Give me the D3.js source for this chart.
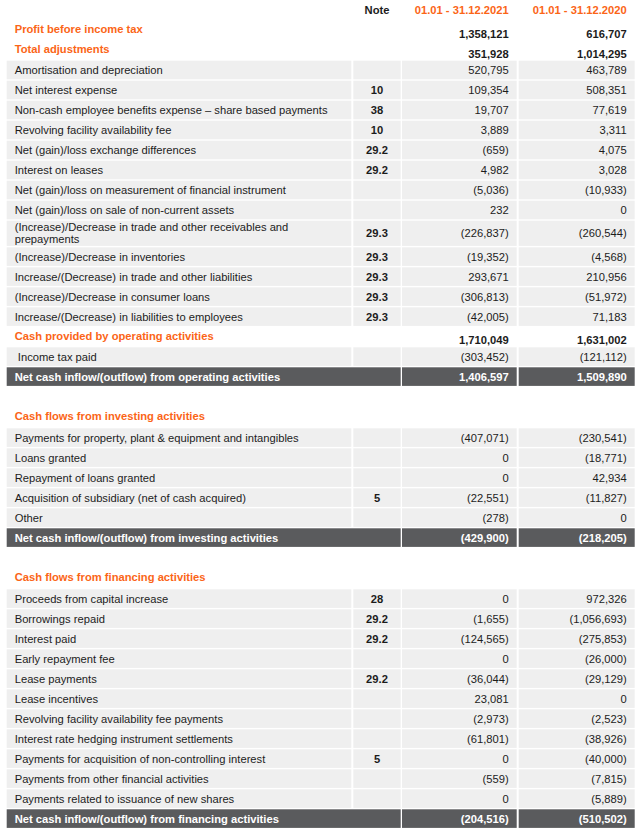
<!DOCTYPE html>
<html><head><meta charset="utf-8">
<script src="https://cdn.jsdelivr.net/npm/d3@7"></script>
<style>
body{margin:0;background:#fff}
svg{display:block}
text{font-family:"Liberation Sans",Arial,sans-serif;font-size:11.2px}
</style>
</head><body>
<svg id="c" width="640" height="833"></svg>
<script>
// ---------- data ----------
const columnHeaders = ["Note", "01.01 - 31.12.2021", "01.01 - 31.12.2020"];

const rowKinds = [
  "head","head",
  "item","item","item","item","item","item","item","item",
  "wrap","item","item","item","item",
  "head","item","total",
  "gap","section",
  "item","item","item","item","item","total",
  "gap","section",
  "item","item","item","item","item","item","item","item","item","item","item","total"
];

const labels = [
  "Profit before income tax",
  "Total adjustments",
  "Amortisation and depreciation",
  "Net interest expense",
  "Non-cash employee benefits expense \u2013 share based payments",
  "Revolving facility availability fee",
  "Net (gain)/loss exchange differences",
  "Interest on leases",
  "Net (gain)/loss on measurement of financial instrument",
  "Net (gain)/loss on sale of non-current assets",
  "(Increase)/Decrease in trade and other receivables and|prepayments",
  "(Increase)/Decrease in inventories",
  "Increase/(Decrease) in trade and other liabilities",
  "(Increase)/Decrease in consumer loans",
  "Increase/(Decrease) in liabilities to employees",
  "Cash provided by operating activities",
  "\u00a0Income tax paid",
  "Net cash inflow/(outflow) from operating activities",
  "",
  "Cash flows from investing activities",
  "Payments for property, plant & equipment and intangibles",
  "Loans granted",
  "Repayment of loans granted",
  "Acquisition of subsidiary (net of cash acquired)",
  "Other",
  "Net cash inflow/(outflow) from investing activities",
  "",
  "Cash flows from financing activities",
  "Proceeds from capital increase",
  "Borrowings repaid",
  "Interest paid",
  "Early repayment fee",
  "Lease payments",
  "Lease incentives",
  "Revolving facility availability fee payments",
  "Interest rate hedging instrument settlements",
  "Payments for acquisition of non-controlling interest",
  "Payments from other financial activities",
  "Payments related to issuance of new shares",
  "Net cash inflow/(outflow) from financing activities"
];

const notes = [
  "","",
  "","10","38","10","29.2","29.2","","",
  "29.3","29.3","29.3","29.3","29.3",
  "","","",
  "","",
  "","","","5","","",
  "","",
  "28","29.2","29.2","","29.2","","","","5","","",""
];

const values2021 = [
  1358121, 351928,
  520795, 109354, 19707, 3889, -659, 4982, -5036, 232,
  -226837, -19352, 293671, -306813, -42005,
  1710049, -303452, 1406597,
  null, null,
  -407071, 0, 0, -22551, -278, -429900,
  null, null,
  0, -1655, -124565, 0, -36044, 23081, -2973, -61801, 0, -559, 0, -204516
];

const values2020 = [
  616707, 1014295,
  463789, 508351, 77619, 3311, 4075, 3028, -10933, 0,
  -260544, -4568, 210956, -51972, 71183,
  1631002, -121112, 1509890,
  null, null,
  -230541, -18771, 42934, -11827, 0, -218205,
  null, null,
  972326, -1056693, -275853, -26000, -29129, 0, -2523, -38926, -40000, -7815, -5889, -510502
];

// ---------- layout ----------
const W = 640, H = 833;
const orange = "#fb6517", gray = "#efefef", dark = "#5a5b5d", ink = "#1c1c1c";
const headerH = 20.7;
const kindH = {head: 20, item: 20, wrap: 26.6, total: 20, gap: 21, section: 20};
const rectH = 18.6;

const heights = rowKinds.map(k => kindH[k]);
const tops = heights.map((h, i) => headerH + d3.sum(heights.slice(0, i)));
const y = d3.scaleOrdinal().domain(d3.range(rowKinds.length)).range(tops);

const colKeys = ["label", "note", "v2021", "v2020"];
const colX = d3.scaleOrdinal().domain(colKeys).range([6.7, 353.3, 402, 518.7]);
const colW = d3.scaleOrdinal().domain(colKeys).range([344.6, 47.4, 114.7, 116]);
const textX = d3.scaleOrdinal().domain(colKeys).range([14.7, 377, 508.7, 626.7]);

const fmtN = d3.format(",");
const fmt = v => v == null ? "" : (v < 0 ? "(" + fmtN(-v) + ")" : fmtN(v));

const svg = d3.select("#c");
svg.append("rect").attr("width", W).attr("height", H).attr("fill", "#fff");

// column headers
const hdr = svg.append("g");
hdr.append("text").attr("x", textX("note")).attr("y", 10).attr("dy", "0.35em")
  .attr("text-anchor", "middle").attr("font-weight", "bold").attr("fill", ink).text(columnHeaders[0]);
hdr.append("text").attr("x", textX("v2021")).attr("y", 10).attr("dy", "0.35em")
  .attr("text-anchor", "end").attr("font-weight", "bold").attr("fill", orange).text(columnHeaders[1]);
hdr.append("text").attr("x", textX("v2020")).attr("y", 10).attr("dy", "0.35em")
  .attr("text-anchor", "end").attr("font-weight", "bold").attr("fill", orange).text(columnHeaders[2]);

const rows = d3.range(rowKinds.length).map(i => ({
  i, kind: rowKinds[i], label: labels[i], note: notes[i], a: values2021[i], b: values2020[i], top: y(i), h: heights[i]
}));

const g = svg.append("g");
const rowG = g.selectAll("g.row").data(rows).join("g").attr("class", "row")
  .attr("transform", d => `translate(0,${d.top})`);

// backgrounds
rowG.filter(d => d.kind === "item" || d.kind === "wrap").each(function(d) {
  const s = d3.select(this);
  colKeys.forEach(k => {
    s.append("rect").attr("x", colX(k)).attr("y", 0).attr("width", colW(k))
      .attr("height", d.h - (20 - rectH)).attr("fill", gray);
  });
});
rowG.filter(d => d.kind === "total").each(function(d) {
  const s = d3.select(this);
  s.append("rect").attr("x", colX("label")).attr("y", 0)
    .attr("width", colX("note") + colW("note") - colX("label")).attr("height", rectH).attr("fill", dark);
  ["v2021", "v2020"].forEach(k => {
    s.append("rect").attr("x", colX(k)).attr("y", 0).attr("width", colW(k)).attr("height", rectH).attr("fill", dark);
  });
});

// labels
rowG.each(function(d) {
  const s = d3.select(this);
  if (d.kind === "gap") return;
  if (d.kind === "head" || d.kind === "section") {
    s.append("text").attr("x", textX("label")).attr("y", d.kind === "section" ? 7.6 : 8.5).attr("dy", "0.35em")
      .attr("font-weight", "bold").attr("fill", orange).text(d.label);
    if (d.kind === "head") {
      s.append("text").attr("x", textX("v2021")).attr("y", 13).attr("dy", "0.35em")
        .attr("text-anchor", "end").attr("font-weight", "bold").attr("fill", ink).text(fmt(d.a));
      s.append("text").attr("x", textX("v2020")).attr("y", 13).attr("dy", "0.35em")
        .attr("text-anchor", "end").attr("font-weight", "bold").attr("fill", ink).text(fmt(d.b));
    }
    return;
  }
  const isTotal = d.kind === "total";
  const col = isTotal ? "#fff" : ink;
  const fw = isTotal ? "bold" : "normal";
  const cy = d.kind === "wrap" ? 12.6 : 9.3;
  if (d.kind === "wrap") {
    const parts = d.label.split("|");
    const t = s.append("text").attr("fill", col);
    parts.forEach((p, j) => t.append("tspan").attr("x", textX("label")).attr("y", 6.6 + j * 12).attr("dy", "0.35em").text(p));
  } else {
    s.append("text").attr("x", textX("label")).attr("y", cy).attr("dy", "0.35em")
      .attr("font-weight", fw).attr("fill", col).text(d.label);
  }
  if (d.note) {
    s.append("text").attr("x", textX("note")).attr("y", cy).attr("dy", "0.35em")
      .attr("text-anchor", "middle").attr("font-weight", "bold").attr("fill", ink).text(d.note);
  }
  s.append("text").attr("x", textX("v2021")).attr("y", cy).attr("dy", "0.35em")
    .attr("text-anchor", "end").attr("font-weight", fw).attr("fill", col).text(fmt(d.a));
  s.append("text").attr("x", textX("v2020")).attr("y", cy).attr("dy", "0.35em")
    .attr("text-anchor", "end").attr("font-weight", fw).attr("fill", col).text(fmt(d.b));
});
</script>
</body></html>
